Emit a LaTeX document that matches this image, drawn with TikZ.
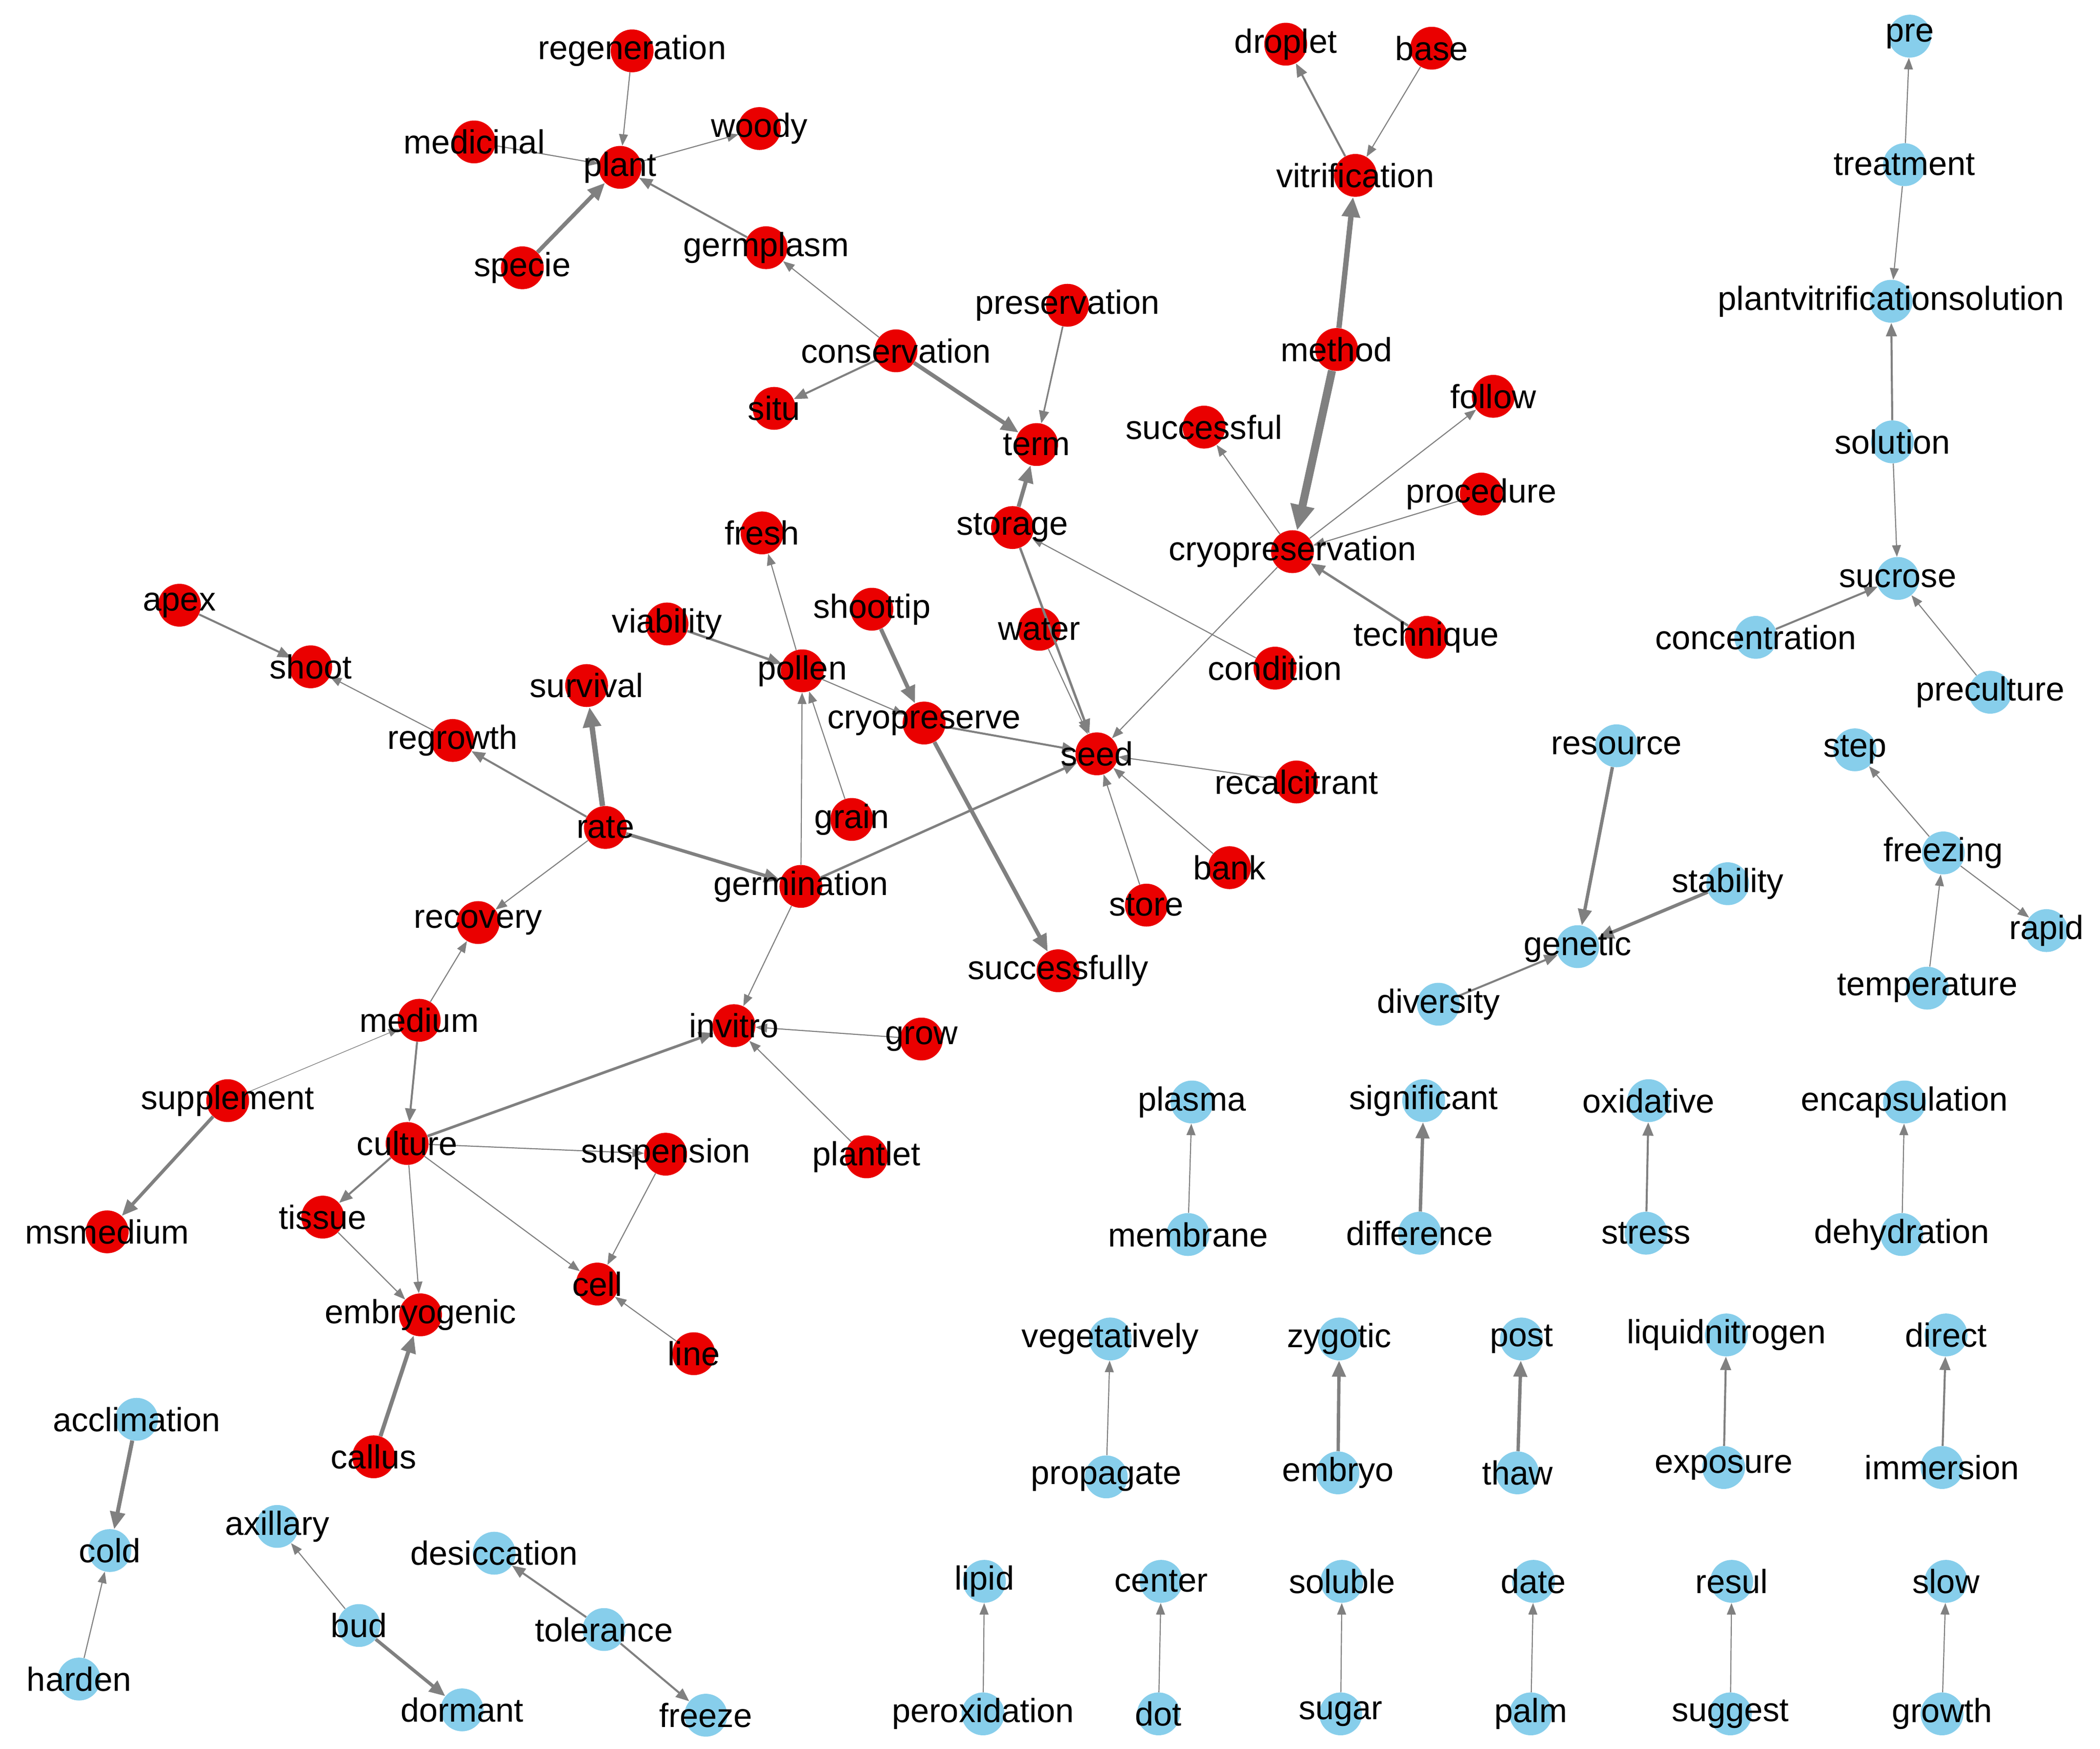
\documentclass[tikz,border=0pt]{standalone}
\usepackage{fontspec}
\setmainfont{Liberation Sans}
\usetikzlibrary{arrows.meta}
\definecolor{rd}{RGB}{234,0,0}
\definecolor{bl}{RGB}{135,206,235}
\definecolor{eg}{RGB}{128,128,128}
\begin{document}
\begin{tikzpicture}[x=1pt,y=-1pt,
  vtx/.style={circle,minimum size=32pt,inner sep=0pt,fill=#1},
  lab/.style={font=\fontsize{25}{25}\selectfont,inner sep=0pt},
  ed/.style={draw=eg,line width=#1,-{Triangle[length=7pt 2,width=5pt 2]}}]
\useasboundingbox (0,0) rectangle (1568,1306);
\foreach \n/\x/\y in {regeneration/472/38,plant/463/125,medicinal/354/106,woody/567/96,specie/390/200,germplasm/572/185,conservation/669/262,situ/578/305,preservation/797/228,term/774/332,droplet/960/33,base/1069/36,vitrification/1012/131,method/998/261,successful/899/319,follow/1115/296,procedure/1106/369,cryopreservation/965/412,technique/1065/476,storage/756/394,fresh/569/398,water/776/470,condition/952/499,apex/134/452,shoot/232/498,survival/438/512,viability/498/466,shoottip/651/455,pollen/599/501,cryopreserve/690/540,seed/819/563,recalcitrant/968/584,regrowth/338/553,rate/452/618,grain/636/612,germination/598/662,bank/918/648,store/856/676,recovery/357/689,successfully/790/725,medium/313/762,invitro/548/766,grow/688/776,supplement/170/822,culture/304/854,suspension/497/862,plantlet/647/864,msmedium/80/920,tissue/241/909,cell/446/959,embryogenic/314/982,line/518/1011,callus/279/1088}
  \node[vtx=rd] (\n) at (\x,\y) {};
\foreach \n/\x/\y in {pre/1426/27,treatment/1422/123,plantvitrificationsolution/1412/225,solution/1413/330,sucrose/1417/432,concentration/1311/476,preculture/1486/517,resource/1207/557,step/1385/560,freezing/1451/637,stability/1290/660,rapid/1528/695,genetic/1178/707,diversity/1074/750,temperature/1439/738,plasma/890/823,significant/1063/822,oxidative/1231/822,encapsulation/1422/823,membrane/887/922,difference/1060/921,stress/1229/921,dehydration/1420/922,vegetatively/829/1000,zygotic/1000/1000,post/1136/1000,liquidnitrogen/1289/997,direct/1453/997,propagate/826/1103,embryo/999/1100,thaw/1133/1100,exposure/1287/1096,immersion/1450/1096,acclimation/102/1060,cold/82/1158,harden/59/1254,axillary/207/1140,bud/268/1214,dormant/345/1277,desiccation/369/1160,tolerance/451/1217,freeze/527/1281,lipid/735/1181,center/867/1181,soluble/1002/1181,date/1145/1181,resul/1293/1181,slow/1453/1181,peroxidation/734/1280,dot/865/1280,sugar/1001/1280,palm/1143/1280,suggest/1292/1280,growth/1450/1280}
  \node[vtx=bl] (\n) at (\x,\y) {};
\foreach \a/\b/\w in {regeneration/plant/0.8,medicinal/plant/0.8,plant/woody/0.8,specie/plant/3,germplasm/plant/1.5,conservation/germplasm/0.8,conservation/situ/1.5,conservation/term/3,preservation/term/1.2,storage/term/3,vitrification/droplet/1.5,base/vitrification/0.8,method/vitrification/4,method/cryopreservation/6,cryopreservation/successful/0.8,cryopreservation/follow/0.8,procedure/cryopreservation/0.8,technique/cryopreservation/1.8,cryopreservation/seed/0.8,condition/storage/0.8,storage/seed/1.8,water/seed/0.8,apex/shoot/1.5,regrowth/shoot/0.8,rate/regrowth/1.5,rate/survival/4,viability/pollen/1.8,pollen/fresh/0.8,shoottip/cryopreserve/3,pollen/cryopreserve/0.8,cryopreserve/seed/1.5,cryopreserve/successfully/3,grain/pollen/0.8,germination/pollen/0.8,rate/germination/2.5,germination/seed/1.8,recalcitrant/seed/0.8,bank/seed/0.8,store/seed/0.8,rate/recovery/0.8,medium/recovery/0.8,germination/invitro/0.8,grow/invitro/0.8,plantlet/invitro/0.8,supplement/medium/0.5,supplement/msmedium/2.5,medium/culture/1.5,culture/invitro/2,culture/suspension/0.8,suspension/cell/0.8,culture/cell/0.8,culture/tissue/1.5,culture/embryogenic/0.8,tissue/embryogenic/0.8,line/cell/0.8,callus/embryogenic/3,treatment/pre/0.8,treatment/plantvitrificationsolution/0.8,solution/plantvitrificationsolution/1.5,solution/sucrose/0.8,concentration/sucrose/1.5,preculture/sucrose/0.8,resource/genetic/2.5,stability/genetic/2.5,diversity/genetic/1.5,freezing/step/0.8,freezing/rapid/0.8,temperature/freezing/0.8,membrane/plasma/0.8,difference/significant/2.5,stress/oxidative/1.5,dehydration/encapsulation/0.8,propagate/vegetatively/0.8,embryo/zygotic/2.5,thaw/post/2.5,exposure/liquidnitrogen/1.5,immersion/direct/1.5,acclimation/cold/3,harden/cold/0.8,bud/axillary/0.8,bud/dormant/2.5,tolerance/desiccation/1.5,tolerance/freeze/1.5,peroxidation/lipid/0.8,dot/center/0.8,sugar/soluble/0.8,palm/date/0.8,suggest/resul/0.8,growth/slow/0.8}
  \draw[ed=\w pt] (\a) -- (\b);
\foreach \n in {regeneration,plant,medicinal,woody,specie,germplasm,conservation,situ,preservation,term,droplet,base,vitrification,method,successful,follow,procedure,cryopreservation,technique,storage,fresh,water,condition,apex,shoot,survival,viability,shoottip,pollen,cryopreserve,seed,recalcitrant,regrowth,rate,grain,germination,bank,store,recovery,successfully,medium,invitro,grow,supplement,culture,suspension,plantlet,msmedium,tissue,cell,embryogenic,line,callus,pre,treatment,plantvitrificationsolution,solution,sucrose,concentration,preculture,resource,step,freezing,stability,rapid,genetic,diversity,temperature,plasma,significant,oxidative,encapsulation,membrane,difference,stress,dehydration,vegetatively,zygotic,post,liquidnitrogen,direct,propagate,embryo,thaw,exposure,immersion,acclimation,cold,harden,axillary,bud,dormant,desiccation,tolerance,freeze,lipid,center,soluble,date,resul,slow,peroxidation,dot,sugar,palm,suggest,growth}
  \node[lab] at (\n) {\n};
\end{tikzpicture}
\end{document}
